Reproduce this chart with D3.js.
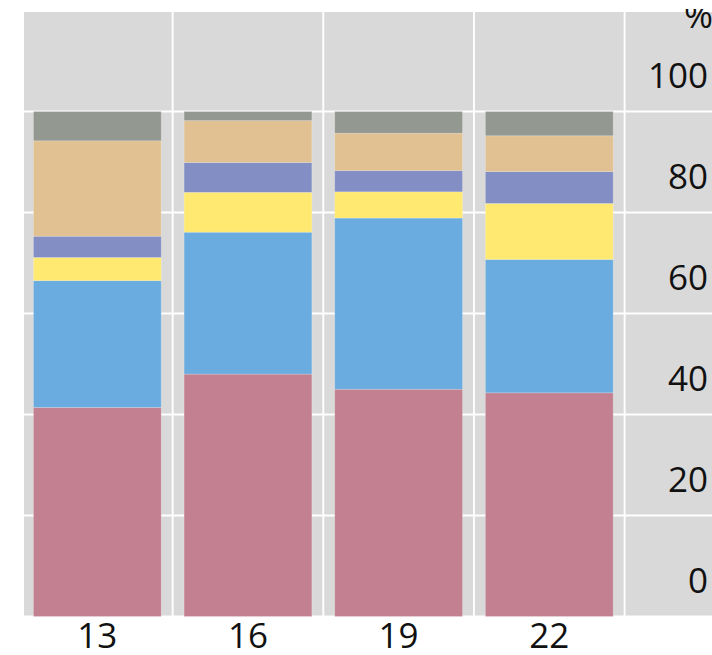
<!DOCTYPE html>
<html>
<head>
<meta charset="utf-8">
<script src="https://cdn.jsdelivr.net/npm/d3@7"></script>
<style>
  html, body { margin: 0; padding: 0; background: #ffffff; }
  svg { display: block; }
  text { font-family: "Open Sans", sans-serif; }
</style>
</head>
<body>
<svg id="chart" width="712" height="655"></svg>
<script>
// ---- data ----
const categories = ["13", "16", "19", "22"];
const seriesNames = ["s1", "s2", "s3", "s4", "s5", "s6"];
const s1 = [41.4, 48.0, 45.0, 44.3];
const s2 = [25.1, 28.1, 33.9, 26.4];
const s3 = [4.6, 7.9, 5.2, 11.1];
const s4 = [4.2, 5.9, 4.2, 6.3];
const s5 = [18.9, 8.3, 7.4, 7.1];
const s6 = [5.8, 1.8, 4.3, 4.8];
const yTicks = [0, 20, 40, 60, 80, 100];
const colors = ["#C28090", "#6AACDF", "#FFE970", "#828EC4", "#E1C191", "#939890"];

const seriesValues = [s1, s2, s3, s4, s5, s6];
const rows = categories.map((c, i) => {
  const r = { cat: c };
  seriesNames.forEach((s, j) => { r[s] = seriesValues[j][i]; });
  return r;
});

const svg = d3.select("#chart");
const W = 712, H = 655;

svg.append("defs").append("clipPath").attr("id", "clipTop")
  .append("rect").attr("x", 0).attr("y", 9).attr("width", W).attr("height", H - 9);

const root = svg.append("g").attr("clip-path", "url(#clipTop)");

const panel = { left: 24, top: 12, right: 712, bottom: 617 };

const x = d3.scaleBand().domain(categories).range([22, 624.6])
  .paddingInner(0.152).paddingOuter(0.076);
const y = d3.scaleLinear().domain([0, 100]).range([616.5, 111.5]);

// panel background
root.append("rect")
  .attr("x", panel.left).attr("y", panel.top)
  .attr("width", panel.right - panel.left).attr("height", panel.bottom - panel.top)
  .attr("fill", "#D9D9D9");

// horizontal grid
root.append("g").selectAll("line").data(yTicks).join("line")
  .attr("x1", panel.left).attr("x2", panel.right)
  .attr("y1", d => y(d)).attr("y2", d => y(d))
  .attr("stroke", "#ffffff").attr("stroke-width", 1.9);

// vertical grid between bands
const step = x.step();
const vlines = categories.map((c, i) => x.range()[0] + (i + 1) * step);
root.append("g").selectAll("line").data(vlines).join("line")
  .attr("x1", d => d).attr("x2", d => d)
  .attr("y1", panel.top).attr("y2", panel.bottom)
  .attr("stroke", "#ffffff").attr("stroke-width", 1.9);

// stacked bars
const stack = d3.stack().keys(seriesNames)(rows);
root.append("g").selectAll("g").data(stack).join("g")
  .attr("fill", (d, i) => colors[i])
  .selectAll("rect").data(d => d).join("rect")
  .attr("x", d => x(d.data.cat))
  .attr("width", x.bandwidth())
  .attr("y", d => y(d[1]))
  .attr("height", d => y(d[0]) - y(d[1]))
  .attr("stroke", "rgba(255,255,255,0.25)")
  .attr("stroke-width", 0.8);

// y labels on right, offset above gridlines
root.append("g").selectAll("text").data(yTicks).join("text")
  .attr("x", 708)
  .attr("y", d => y(d) - 37)
  .attr("text-anchor", "end")
  .attr("dominant-baseline", "central")
  .attr("font-size", 35)
  .attr("fill", "#111")
  .text(d => d);

// unit label
root.append("text")
  .attr("x", 713).attr("y", 28)
  .attr("text-anchor", "end")
  .attr("font-size", 35)
  .attr("fill", "#111")
  .text("%");

// x labels
root.append("g").selectAll("text").data(categories).join("text")
  .attr("x", d => x(d) + x.bandwidth() / 2)
  .attr("y", 648)
  .attr("text-anchor", "middle")
  .attr("font-size", 35)
  .attr("fill", "#111")
  .text(d => d);
</script>
</body>
</html>
